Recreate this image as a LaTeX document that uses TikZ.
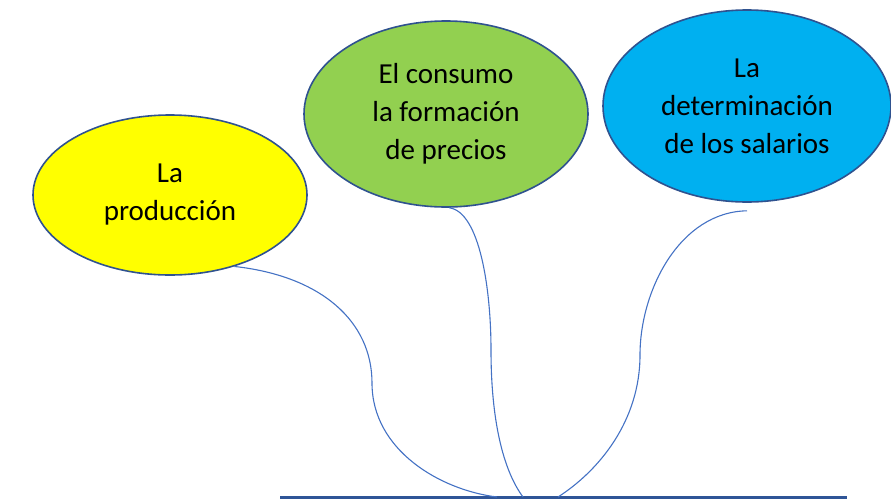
\documentclass[tikz,border=0pt]{standalone}
\usepackage{fontspec}
\setmainfont{Carlito}
\usepackage{tikz}
\usetikzlibrary{shapes.geometric}

\definecolor{prodyellow}{HTML}{FFFF00}
\definecolor{consgreen}{HTML}{92D050}
\definecolor{salblue}{HTML}{00B0F0}
\definecolor{rimblue}{HTML}{2F528F}
\definecolor{linkblue}{HTML}{4472C4}
\definecolor{baseblue}{HTML}{2F5597}

\begin{document}
\begin{tikzpicture}[x=1pt, y=-1pt,
    bubble/.style={ellipse, draw=rimblue, line width=1.6pt, inner sep=0pt,
      align=center, font=\fontsize{29}{38}\selectfont},
    branch/.style={draw=linkblue, line width=1.1pt}]

  \useasboundingbox (0,0) rectangle (891,499);

  % Define nodes
  \node[bubble, fill=prodyellow, minimum width=274pt, minimum height=160pt] (prod) at (170,195) {La\\producción};
  \node[bubble, fill=consgreen, minimum width=284pt, minimum height=186pt] (cons) at (446,114) {El consumo\\la formación\\de precios};
  \node[bubble, fill=salblue, minimum width=288pt, minimum height=192pt] (sal) at (747,106) {La\\determinación\\de los salarios};

  % base line and where the branches meet it
  \coordinate (baseL) at (280,497);
  \coordinate (baseR) at (847,497);
  \coordinate (prodEnd) at (497,497);
  \coordinate (consEnd) at (523,497);
  \coordinate (salEnd) at (558,497);

  \draw [draw=baseblue, line width=3pt] (baseL) -- (baseR);

  % branches
  \draw [branch] (prod.-48) .. controls (322,276) and (372,322) .. (372,383)
                            .. controls (372,450) and (440,490) .. (prodEnd);
  \draw [branch] (cons.-88) .. controls (480,212) and (491,290) .. (491,350)
                            .. controls (491,420) and (503,470) .. (consEnd);
  \draw [branch] ([yshift=-8pt]sal.south) .. controls (680,212) and (640,290) .. (640,355)
                            .. controls (640,420) and (600,470) .. (salEnd);

\end{tikzpicture}
\end{document}
